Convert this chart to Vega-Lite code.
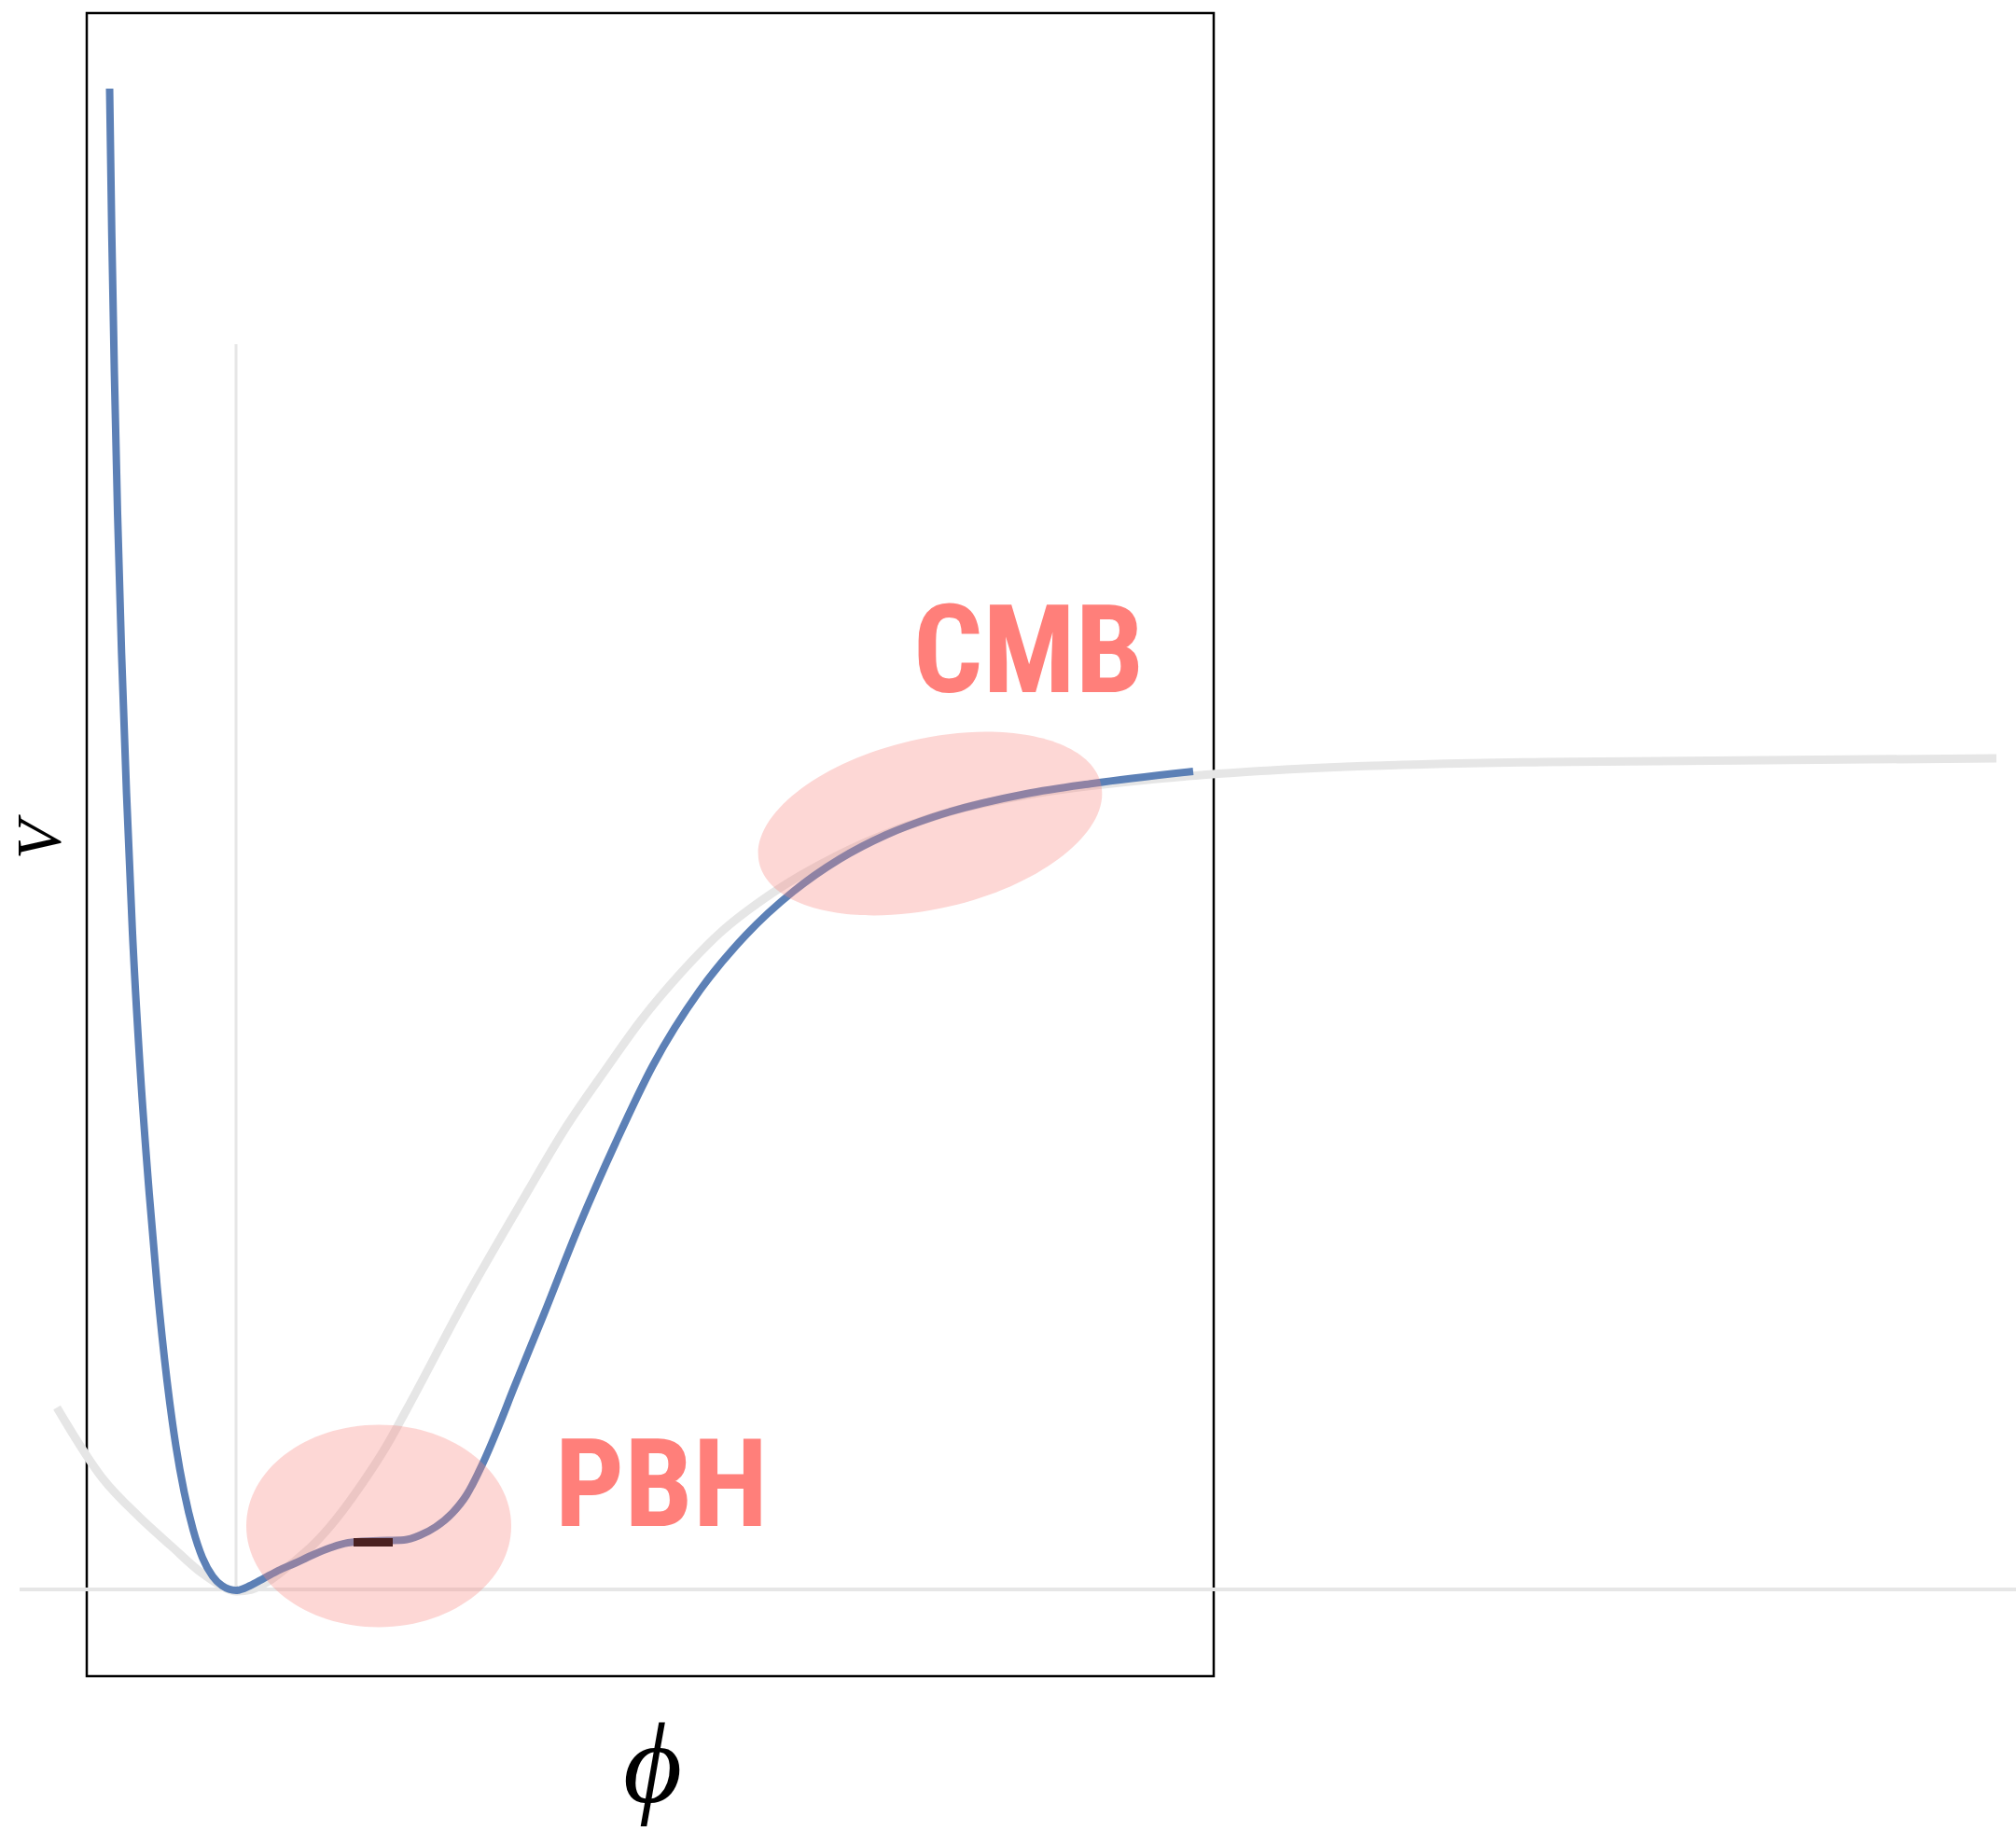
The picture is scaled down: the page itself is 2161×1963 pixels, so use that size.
{
  "$schema": "https://vega.github.io/schema/vega-lite/v6.json",
  "autosize": {"type": "none"},
  "padding": {"left": 93, "top": 14, "right": 860, "bottom": 166},
  "width": 1208,
  "height": 1783,
  "background": "white",
  "config": {"view": {"stroke": "black", "strokeWidth": 2.5}},
  "datasets": {
    "blue": [
      {"phi": 0.245, "V": 16.09}, {"phi": 0.268, "V": 14.54}, {"phi": 0.296, "V": 13.04}, {"phi": 0.33, "V": 11.54},
      {"phi": 0.373, "V": 10.04}, {"phi": 0.426, "V": 8.54}, {"phi": 0.49, "V": 7.04}, {"phi": 0.575, "V": 5.54},
      {"phi": 0.67, "V": 4.24}, {"phi": 0.755, "V": 3.24}, {"phi": 0.86, "V": 2.24}, {"phi": 0.955, "V": 1.54},
      {"phi": 1.045, "V": 1.04}, {"phi": 1.14, "V": 0.64}, {"phi": 1.24, "V": 0.34}, {"phi": 1.35, "V": 0.14},
      {"phi": 1.45, "V": 0.04}, {"phi": 1.60, "V": -0.01}, {"phi": 1.75, "V": 0.04}, {"phi": 1.90, "V": 0.12},
      {"phi": 2.07, "V": 0.21}, {"phi": 2.23, "V": 0.28}, {"phi": 2.40, "V": 0.36}, {"phi": 2.62, "V": 0.45},
      {"phi": 2.80, "V": 0.50}, {"phi": 3.07, "V": 0.52}, {"phi": 3.40, "V": 0.53}, {"phi": 3.57, "V": 0.58},
      {"phi": 3.74, "V": 0.67}, {"phi": 3.92, "V": 0.82}, {"phi": 4.07, "V": 1.01}, {"phi": 4.24, "V": 1.34},
      {"phi": 4.42, "V": 1.76}, {"phi": 4.57, "V": 2.14}, {"phi": 4.90, "V": 2.95}, {"phi": 5.27, "V": 3.88},
      {"phi": 5.67, "V": 4.79}, {"phi": 6.07, "V": 5.62}, {"phi": 6.57, "V": 6.42}, {"phi": 7.07, "V": 7.02},
      {"phi": 7.57, "V": 7.48}, {"phi": 8.07, "V": 7.83}, {"phi": 8.57, "V": 8.09}, {"phi": 9.07, "V": 8.28},
      {"phi": 10.07, "V": 8.53}, {"phi": 10.78, "V": 8.64}, {"phi": 11.86, "V": 8.77}
    ],
    "grey": [
      {"phi": -0.32, "V": 1.95}, {"phi": 0.17, "V": 1.19}, {"phi": 0.57, "V": 0.77}, {"phi": 0.90, "V": 0.47},
      {"phi": 1.24, "V": 0.17}, {"phi": 1.44, "V": 0.04}, {"phi": 1.60, "V": -0.02}, {"phi": 1.77, "V": 0.00},
      {"phi": 1.97, "V": 0.10}, {"phi": 2.20, "V": 0.28}, {"phi": 2.44, "V": 0.49}, {"phi": 2.67, "V": 0.75},
      {"phi": 2.90, "V": 1.06}, {"phi": 3.22, "V": 1.55}, {"phi": 3.43, "V": 1.93}, {"phi": 4.07, "V": 3.13},
      {"phi": 4.67, "V": 4.17}, {"phi": 5.14, "V": 4.96}, {"phi": 5.56, "V": 5.57}, {"phi": 5.94, "V": 6.10},
      {"phi": 6.36, "V": 6.60}, {"phi": 6.79, "V": 7.04}, {"phi": 7.34, "V": 7.46}, {"phi": 8.03, "V": 7.86},
      {"phi": 8.72, "V": 8.16}, {"phi": 9.41, "V": 8.38}, {"phi": 10.09, "V": 8.52}, {"phi": 11.47, "V": 8.69},
      {"phi": 12.85, "V": 8.79}, {"phi": 15.61, "V": 8.87}, {"phi": 20.47, "V": 8.91}
    ]
  },
  "layer": [
    {
      "data": {"values": [{"phi": -0.72, "phi2": 20.68, "V": 0}]},
      "mark": {"type": "rule", "color": "#e6e6e6", "strokeWidth": 4},
      "encoding": {
        "x": {"field": "phi", "type": "quantitative", "scale": {"domain": [0, 12.08], "nice": false, "zero": false},
              "axis": {"title": "ϕ", "domain": false, "ticks": false, "labels": false, "grid": false,
                       "titleFont": "Liberation Serif", "titleFontStyle": "italic", "titleFontWeight": "normal",
                       "titleFontSize": 122, "titleColor": "black", "titleX": 606, "titleY": 134,
                       "titleAlign": "center", "titleBaseline": "alphabetic"}},
        "x2": {"field": "phi2"},
        "y": {"field": "V", "type": "quantitative", "scale": {"domain": [-0.93, 16.90], "nice": false, "zero": false},
              "axis": {"title": "V", "domain": false, "ticks": false, "labels": false, "grid": false,
                       "titleFont": "Liberation Serif", "titleFontStyle": "italic", "titleFontWeight": "normal",
                       "titleFontSize": 68, "titleColor": "black", "titleX": -30, "titleY": 886,
                       "titleAngle": -90, "titleAlign": "center", "titleBaseline": "alphabetic"}}
      }
    },
    {
      "data": {"values": [{"phi": 1.60, "V": 0, "V2": 13.35}]},
      "mark": {"type": "rule", "color": "#e6e6e6", "strokeWidth": 3},
      "encoding": {
        "x": {"field": "phi", "type": "quantitative"},
        "y": {"field": "V", "type": "quantitative"},
        "y2": {"field": "V2"}
      }
    },
    {
      "data": {"name": "grey"},
      "mark": {"type": "line", "color": "#e6e6e6", "strokeWidth": 9, "interpolate": "monotone"},
      "encoding": {
        "x": {"field": "phi", "type": "quantitative"},
        "y": {"field": "V", "type": "quantitative"}
      }
    },
    {
      "data": {"name": "blue"},
      "mark": {"type": "line", "color": "#5c80b6", "strokeWidth": 8, "interpolate": "monotone"},
      "encoding": {
        "x": {"field": "phi", "type": "quantitative"},
        "y": {"field": "V", "type": "quantitative"}
      }
    },
    {
      "data": {"values": [{"phi": 3.13, "V": 0.68}]},
      "mark": {"type": "point", "filled": true, "fill": "#f98680", "fillOpacity": 0.33, "strokeWidth": 0,
               "size": 80656, "shape": "M -1 0 A 1 0.764 0 1 1 1 0 A 1 0.764 0 1 1 -1 0 Z"},
      "encoding": {
        "x": {"field": "phi", "type": "quantitative"},
        "y": {"field": "V", "type": "quantitative"}
      }
    },
    {
      "data": {"values": [{"phi": 9.04, "V": 8.21}]},
      "mark": {"type": "point", "filled": true, "fill": "#f98680", "fillOpacity": 0.33, "strokeWidth": 0,
               "size": 141376, "angle": -13, "shape": "M -1 0 A 1 0.485 0 1 1 1 0 A 1 0.485 0 1 1 -1 0 Z"},
      "encoding": {
        "x": {"field": "phi", "type": "quantitative"},
        "y": {"field": "V", "type": "quantitative"}
      }
    },
    {
      "data": {"values": [{"phi": 2.86, "phi2": 3.28, "V": 0.505}]},
      "mark": {"type": "rule", "color": "#4a2121", "strokeWidth": 9, "strokeCap": "butt"},
      "encoding": {
        "x": {"field": "phi", "type": "quantitative"},
        "x2": {"field": "phi2"},
        "y": {"field": "V", "type": "quantitative"}
      }
    },
    {
      "data": {"values": [{"phi": 6.16, "V": 0.68, "label": "PBH"}, {"phi": 10.095, "V": 9.62, "label": "CMB"}]},
      "mark": {"type": "text", "color": "#ff7f7a", "fontSize": 131, "fontWeight": "bold",
               "font": "Roboto Condensed, Noto Sans Condensed, Liberation Sans Narrow, DejaVu Sans Condensed", "align": "center", "baseline": "alphabetic"},
      "encoding": {
        "x": {"field": "phi", "type": "quantitative"},
        "y": {"field": "V", "type": "quantitative"},
        "text": {"field": "label"}
      }
    }
  ]
}
